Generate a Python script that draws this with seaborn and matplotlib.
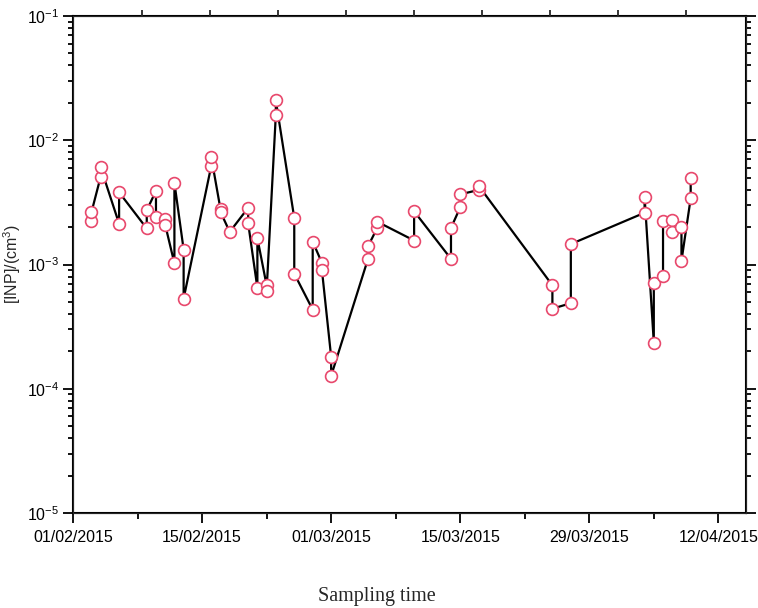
import pandas as pd
import seaborn as sns
import matplotlib.pyplot as plt
import matplotlib.dates as mdates
from matplotlib.ticker import LogLocator, NullFormatter, FixedLocator

# sampling dates (two samples on most days), in drawing order
dates = [
    "2015-02-03", "2015-02-03", "2015-02-04", "2015-02-04", "2015-02-06", "2015-02-06",
    "2015-02-09", "2015-02-09", "2015-02-10", "2015-02-10", "2015-02-11", "2015-02-11",
    "2015-02-12", "2015-02-12", "2015-02-13", "2015-02-13", "2015-02-16", "2015-02-16",
    "2015-02-17", "2015-02-17", "2015-02-18", "2015-02-20", "2015-02-20",
    "2015-02-21", "2015-02-21", "2015-02-22", "2015-02-22", "2015-02-23", "2015-02-23",
    "2015-02-25", "2015-02-25", "2015-02-27", "2015-02-27", "2015-02-28", "2015-02-28",
    "2015-03-01", "2015-03-01", "2015-03-05", "2015-03-05", "2015-03-06", "2015-03-06",
    "2015-03-10", "2015-03-10", "2015-03-14", "2015-03-14", "2015-03-15", "2015-03-15",
    "2015-03-17", "2015-03-17", "2015-03-25", "2015-03-25", "2015-03-27", "2015-03-27",
    "2015-04-04", "2015-04-04", "2015-04-05", "2015-04-05", "2015-04-06", "2015-04-06",
    "2015-04-07", "2015-04-07", "2015-04-08", "2015-04-08", "2015-04-09", "2015-04-09",
]
inp = [
    2.24e-3, 2.63e-3, 5.09e-3, 6.05e-3, 2.13e-3, 3.81e-3,
    1.95e-3, 2.73e-3, 3.91e-3, 2.41e-3, 2.31e-3, 2.09e-3,
    1.02e-3, 4.55e-3, 1.32e-3, 5.31e-4, 6.24e-3, 7.30e-3,
    2.78e-3, 2.65e-3, 1.83e-3, 2.86e-3, 2.15e-3,
    6.47e-4, 1.63e-3, 6.80e-4, 6.13e-4, 1.60e-2, 2.09e-2,
    2.37e-3, 8.44e-4, 4.33e-4, 1.53e-3, 1.03e-3, 9.04e-4,
    1.81e-4, 1.27e-4, 1.11e-3, 1.40e-3, 1.97e-3, 2.21e-3,
    1.56e-3, 2.68e-3, 1.11e-3, 1.97e-3, 2.88e-3, 3.67e-3,
    3.98e-3, 4.30e-3, 6.80e-4, 4.41e-4, 4.88e-4, 1.46e-3,
    2.61e-3, 3.52e-3, 2.35e-4, 7.06e-4, 8.07e-4, 2.23e-3,
    2.28e-3, 1.83e-3, 2.02e-3, 1.07e-3, 3.41e-3, 4.97e-3,
]
tick_dates = ["2015-02-01", "2015-02-15", "2015-03-01", "2015-03-15", "2015-03-29", "2015-04-12"]

df = pd.DataFrame({"date": pd.to_datetime(dates), "INP": inp})

sns.set_style("ticks")
plt.rcParams["font.family"] = ["Liberation Sans", "DejaVu Sans"]
plt.rcParams["mathtext.fontset"] = "custom"
plt.rcParams["mathtext.rm"] = "Liberation Sans"
plt.rcParams["mathtext.it"] = "Liberation Sans:italic"
plt.rcParams["mathtext.default"] = "regular"

fig = plt.figure(figsize=(7.58, 6.08), dpi=100)
ax = fig.add_axes([73 / 758, 95 / 608, 673 / 758, 497 / 608])

sns.lineplot(data=df, x="date", y="INP", estimator=None, sort=False, ax=ax,
             color="black", linewidth=1.6, marker="o", markersize=8.5,
             markerfacecolor="white", markeredgecolor="#e8486c", markeredgewidth=1.2)

ax.set_yscale("log")
ax.set_ylim(1e-5, 1e-1)
ax.set_xlim(pd.Timestamp("2015-02-01"), pd.Timestamp("2015-04-15"))
ax.set_xticks(pd.to_datetime(tick_dates))
ax.xaxis.set_minor_locator(FixedLocator(mdates.date2num(
    pd.date_range("2015-02-08", "2015-04-15", freq="14D"))))
ax.xaxis.set_major_formatter(mdates.DateFormatter("%d/%m/%Y"))
ax.yaxis.set_major_locator(LogLocator(base=10, numticks=10))
ax.yaxis.set_minor_locator(LogLocator(base=10, subs=range(2, 10), numticks=10))
ax.yaxis.set_minor_formatter(NullFormatter())

ax.tick_params(which="both", direction="out", width=1.3, colors="black", labelsize=11.5)
ax.tick_params(axis="x", which="major", length=7, pad=5)
ax.tick_params(axis="x", which="minor", length=4)
ax.tick_params(axis="y", which="major", length=7, pad=3, right=True)
ax.tick_params(axis="y", which="minor", length=3.5, right=True)
for s in ax.spines.values():
    s.set_linewidth(1.5)
    s.set_color("black")

# top axis ticks (unlabelled)
top = ax.twiny()
top.set_xlim(-1.015, 8.88)
top.set_xticks(range(0, 9))
top.tick_params(axis="x", direction="out", length=4, width=1.3, labeltop=False)

ax.set_xlabel("")
ax.set_ylabel("[INP]/(cm$^3$)", fontsize=11.5)
ax.yaxis.set_label_coords(-0.075, 0.5)
fig.text(377 / 758, 1 - 597 / 608, "Sampling time", ha="center", va="center",
         fontsize=14.5, family="Liberation Serif")

fig.savefig("out.png", dpi=100)
